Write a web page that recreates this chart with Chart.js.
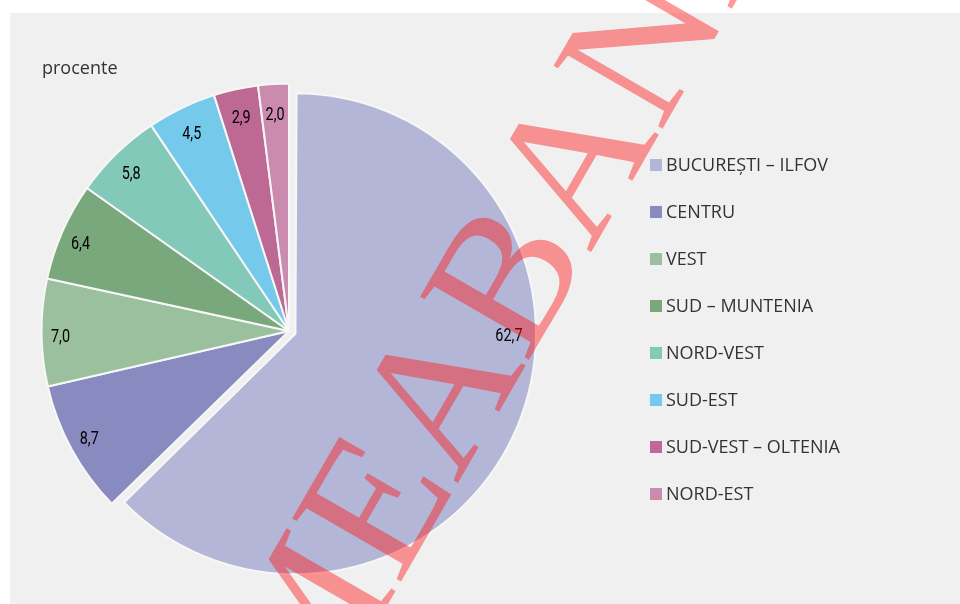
<!DOCTYPE html>
<html>
<head>
<meta charset="utf-8">
<script src="https://cdn.jsdelivr.net/npm/chart.js@4/dist/chart.umd.min.js"></script>
<style>
  html, body { margin: 0; padding: 0; background: #fff; }
  #wrap { position: relative; width: 960px; height: 604px; }
  #unit { position: absolute; left: 42px; top: 55px; font: 18px "Open Sans", sans-serif; color: #333; }
</style>
</head>
<body>
<div id="wrap">
  <canvas id="myChart" width="960" height="604"></canvas>
  <div id="unit">procente</div>
</div>
<script>
const regions = ['BUCUREȘTI – ILFOV', 'CENTRU', 'VEST', 'SUD – MUNTENIA', 'NORD-VEST', 'SUD-EST', 'SUD-VEST – OLTENIA', 'NORD-EST'];
const shares = [62.7, 8.7, 7.0, 6.4, 5.8, 4.5, 2.9, 2.0];
const sliceColors = ['#b4b6d8', '#888ac0', '#9bc09d', '#7aa87d', '#83c9ba', '#75c9eb', '#be6894', '#cb8bae'];

// grey panel behind the chart
const panel = {
  id: 'panel',
  beforeDraw(chart) {
    const ctx = chart.ctx;
    ctx.save();
    ctx.fillStyle = '#fff';
    ctx.fillRect(0, 0, chart.width, chart.height);
    ctx.fillStyle = '#f0f0f0';
    ctx.fillRect(10, 13, chart.width - 10, chart.height - 13);
    ctx.restore();
  }
};

// exploded big slice is drawn a bit smaller than the others
const shrinkFirst = {
  id: 'shrinkFirst',
  beforeDatasetsDraw(chart) {
    const arcs = chart.getDatasetMeta(0).data;
    arcs[0].outerRadius = arcs[1].outerRadius - 14;
  }
};

// value labels near the outer edge, condensed digits, decimal comma
const sliceLabels = {
  id: 'sliceLabels',
  afterDatasetsDraw(chart) {
    const ctx = chart.ctx;
    const arcs = chart.getDatasetMeta(0).data;
    ctx.save();
    ctx.font = '18px Roboto, sans-serif';
    ctx.fillStyle = '#000';
    ctx.textAlign = 'center';
    ctx.textBaseline = 'middle';
    arcs.forEach((arc, i) => {
      const mid = (arc.startAngle + arc.endAngle) / 2;
      const off = (arc.options.offset || 0) / 4;
      const cx = arc.x + Math.cos(mid) * off;
      const cy = arc.y + Math.sin(mid) * off;
      const a = i === 0 ? mid - 22 * Math.PI / 180 : mid;
      // hug the rim a little closer where the label sits sideways
      const r = arc.outerRadius + off - 27 + (i === 0 ? 0 : 8 * Math.abs(Math.cos(a)));
      const dy = i === 0 || Math.sin(a) > 0.2 ? 0 : 5;
      const txt = shares[i].toFixed(1).replace('.', ',');
      ctx.save();
      ctx.translate(cx + Math.cos(a) * r, cy + Math.sin(a) * r + dy);
      ctx.scale(0.8, 1);
      ctx.fillText(txt, 0, 0);
      ctx.restore();
    });
    ctx.restore();
  }
};

const sideLegend = {
  id: 'sideLegend',
  afterDraw(chart) {
    const ctx = chart.ctx;
    ctx.save();
    ctx.font = '18px "Open Sans", sans-serif';
    ctx.textBaseline = 'middle';
    regions.forEach((name, i) => {
      const y = 165 + i * 47;
      ctx.fillStyle = sliceColors[i];
      ctx.fillRect(650, y - 6, 12, 12);
      ctx.fillStyle = '#333';
      ctx.fillText(name, 666, y + 1);
    });
    ctx.restore();
  }
};

const watermark = {
  id: 'watermark',
  afterDraw(chart) {
    const ctx = chart.ctx;
    ctx.save();
    ctx.translate(313, 734);
    ctx.rotate(-60 * Math.PI / 180);
    ctx.font = '192px "Liberation Serif", serif';
    ctx.fillStyle = 'rgba(255, 20, 20, 0.44)';
    ctx.fillText('MEABANK', 0, 0);
    ctx.restore();
  }
};

const ctx = document.getElementById('myChart').getContext('2d');
const myChart = new Chart(ctx, {
  type: 'pie',
  data: {
    labels: regions,
    datasets: [
      {
        data: shares,
        backgroundColor: sliceColors,
        borderColor: '#f7f7f7',
        borderWidth: 2,
        offset: [28, 0, 0, 0, 0, 0, 0, 0],
      },
    ],
  },
  options: {
    responsive: false,
    animation: false,
    devicePixelRatio: 1,
    events: [],
    radius: 247.5,
    layout: { padding: { left: 0, right: 382, top: 58, bottom: 0 } },
    plugins: {
      legend: { display: false },
      tooltip: { enabled: false },
    },
  },
  plugins: [panel, shrinkFirst, sliceLabels, sideLegend, watermark],
});
</script>
</body>
</html>
